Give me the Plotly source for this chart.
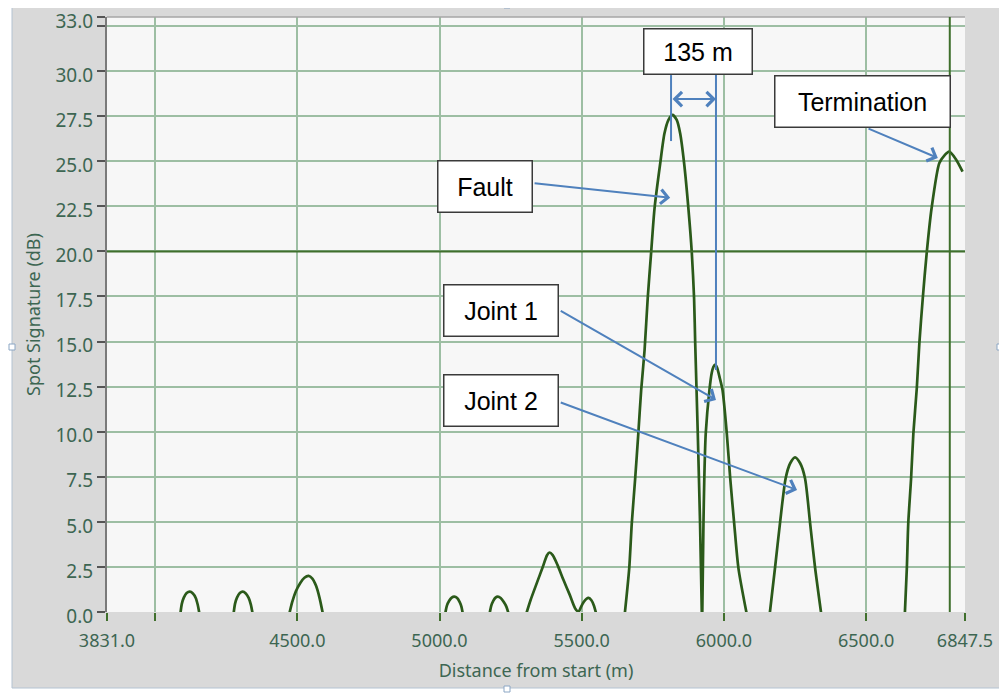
import plotly.graph_objects as go

# ---------------- data (distance in m, spot signature in dB) ----------------
lobe1_x = [4089, 4094, 4101, 4111, 4122, 4133, 4143, 4150, 4156]
lobe1_y = [-0.1, 0.45, 0.8, 1.05, 1.13, 1.03, 0.78, 0.4, -0.1]
lobe2_x = [4276, 4281, 4288, 4298, 4308, 4319, 4329, 4337, 4343]
lobe2_y = [-0.1, 0.45, 0.8, 1.05, 1.13, 1.03, 0.78, 0.4, -0.1]
lobe3_x = [4472, 4482, 4495, 4510, 4525, 4540, 4553, 4566, 4578, 4590]
lobe3_y = [-0.1, 0.55, 1.15, 1.6, 1.9, 2.0, 1.85, 1.45, 0.8, -0.1]
lobe4_x = [5020, 5026, 5034, 5043, 5052, 5062, 5071, 5077, 5082]
lobe4_y = [-0.1, 0.35, 0.62, 0.8, 0.85, 0.78, 0.55, 0.3, -0.1]
lobe5_x = [5176, 5182, 5189, 5197, 5205, 5215, 5226, 5235, 5243]
lobe5_y = [-0.1, 0.35, 0.62, 0.8, 0.85, 0.78, 0.55, 0.3, -0.1]
lobe6_x = [5305, 5320, 5342, 5362, 5378, 5387, 5398, 5415, 5436, 5458, 5477, 5489,
           5498, 5507, 5516, 5524, 5534, 5543, 5551]
lobe6_y = [-0.1, 0.65, 1.6, 2.45, 3.15, 3.3, 3.15, 2.6, 1.77, 0.95, 0.2, 0.02,
           0.3, 0.55, 0.72, 0.78, 0.65, 0.35, -0.1]
fault_x = [5650, 5667, 5676, 5688, 5699, 5709, 5721, 5732, 5744, 5756, 5776, 5791,
           5805, 5819, 5834, 5846, 5860, 5875, 5887, 5895, 5899, 5908, 5916, 5922,
           5923,
           5924, 5928, 5931, 5936, 5949, 5957, 5963, 5969, 5976, 5985, 5995, 6010,
           6022, 6036, 6051, 6080]
fault_y = [-0.3, 2.42, 4.92, 7.42, 9.91, 12.31, 14.53, 17.4, 19.93, 22.39, 24.89, 26.55,
           27.29, 27.57, 27.29, 26.55, 24.89, 22.39, 19.93, 17.4, 14.9, 9.91, 4.92, 0.11,
           -0.5,
           0.11, 4.92, 7.42, 9.91, 12.31, 13.26, 13.6, 13.72, 13.55, 13.0, 12.31, 9.91,
           7.42, 4.92, 2.42, -0.1]
joint2_x = [6161, 6180, 6197, 6217, 6233, 6250, 6268, 6285, 6303, 6320, 6342]
joint2_y = [-0.1, 2.51, 4.92, 7.42, 8.25, 8.58, 8.25, 7.42, 4.92, 2.51, -0.1]
term_x = [6636, 6643, 6648, 6658, 6666, 6678, 6687, 6699, 6713, 6730, 6757, 6774,
          6792, 6816, 6839]
term_y = [-0.1, 2.42, 4.92, 7.42, 9.91, 12.41, 14.9, 17.4, 19.93, 22.39, 24.89, 25.3,
          25.53, 25.1, 24.42]

x_tickvals = [3831.0, 4000.0, 4500.0, 5000.0, 5500.0, 6000.0, 6500.0, 6847.5]
x_ticktext = ["3831.0", "", "4500.0", "5000.0", "5500.0", "6000.0", "6500.0", "6847.5"]
y_tickvals = [0, 2.5, 5, 7.5, 10, 12.5, 15, 17.5, 20, 22.5, 25, 27.5, 30, 32.5, 33]
y_ticktext = ["0.0", "2.5", "5.0", "7.5", "10.0", "12.5", "15.0", "17.5", "20.0",
              "22.5", "25.0", "27.5", "30.0", "", "33.0"]

cursor_x = 6794
cursor_y = 20.0

# label boxes: text, x, y (data), box width, box height (px)
label_text = ["Fault", "Joint 1", "Joint 2", "Termination", "135 m"]
label_x = [5161, 5217, 5217, 6487, 5909]
label_y = [23.6, 16.72, 11.73, 28.31, 31.09]
label_w = [96, 116, 116, 177, 110]
label_h = [53, 53, 53, 53, 47]

# arrows: tail -> head
arrow_tail_x = [5329, 5421, 5421, 6503]
arrow_tail_y = [23.79, 16.75, 11.65, 26.84]
arrow_head_x = [5811, 5972, 6257, 6752]
arrow_head_y = [22.98, 11.76, 6.77, 25.18]

# 135 m dimension
dim_x = [5814, 5972]
dim_y = 28.45
dim_line_bottom = [26.12, 13.42]
dim_line_top = 29.78

# ---------------- figure ----------------
# the page body adds an 8 px offset; the figure is sized so the plot area
# lands on the same window pixels as the reference
OFF = 8
W, H = 1007 - OFF, 693 - OFF
ML, MR, MT, MB = 107 - OFF, 42, 17 - OFF, 81
PW, PH = W - ML - MR, H - MT - MB


def px2paper_x(px):  # px in window coordinates
    return (px - OFF - ML) / PW


def py2paper_y(py):
    return 1 - (py - OFF - MT) / PH


xs, ys = [], []
for lx, ly in [(lobe1_x, lobe1_y), (lobe2_x, lobe2_y), (lobe3_x, lobe3_y),
               (lobe4_x, lobe4_y), (lobe5_x, lobe5_y), (lobe6_x, lobe6_y),
               (fault_x, fault_y), (joint2_x, joint2_y), (term_x, term_y)]:
    xs += lx + [None]
    ys += ly + [None]

TRACE = "#2b5a1a"
GRID = "#9dbea3"
BLUE = "#4f81bd"
TICKC = "#3d6652"

fig = go.Figure()
fig.add_trace(go.Scatter(x=xs, y=ys, mode="lines",
                         line=dict(color=TRACE, width=2.7, shape="spline", smoothing=0.7),
                         connectgaps=False, showlegend=False, hoverinfo="skip"))

shapes = []
# outer white margins of the screenshot
for (x0, y0, x1, y1) in [(0, 0, 12, 700), (0, 0, 1010, 4), (1000, 0, 1010, 700),
                         (0, 688, 1010, 700)]:
    shapes.append(dict(type="rect", xref="paper", yref="paper",
                       x0=px2paper_x(x0), x1=px2paper_x(x1),
                       y0=py2paper_y(y0), y1=py2paper_y(y1),
                       fillcolor="white", line=dict(width=0), layer="below"))
shapes.append(dict(type="rect", xref="paper", yref="paper",
                   x0=px2paper_x(12), x1=px2paper_x(1000),
                   y0=py2paper_y(4), y1=py2paper_y(688),
                   fillcolor="rgba(0,0,0,0)", line=dict(color="#b4c3d2", width=1)))
for (hx, hy) in [(507, 5), (12, 347), (1000, 347), (507, 689)]:
    shapes.append(dict(type="rect", xref="paper", yref="paper",
                       x0=px2paper_x(hx - 3), x1=px2paper_x(hx + 3),
                       y0=py2paper_y(hy - 3), y1=py2paper_y(hy + 3),
                       fillcolor="white", line=dict(color="#8ba6c4", width=1)))
# top border of plot
shapes.append(dict(type="line", xref="paper", yref="paper", x0=0, x1=1, y0=1, y1=1,
                   line=dict(color="#a6a6a6", width=1.5)))
# cursors
shapes.append(dict(type="line", xref="x", yref="paper", x0=cursor_x, x1=cursor_x, y0=0, y1=1,
                   line=dict(color="#3f6f2c", width=2)))
shapes.append(dict(type="line", xref="paper", yref="y", x0=0, x1=1, y0=cursor_y, y1=cursor_y,
                   line=dict(color="#3f6f2c", width=2)))
# dimension lines
for dx, db in zip(dim_x, dim_line_bottom):
    shapes.append(dict(type="line", xref="x", yref="y", x0=dx, x1=dx, y0=db, y1=dim_line_top,
                       line=dict(color=BLUE, width=2)))

annotations = []
for t, x, y, w, h in zip(label_text, label_x, label_y, label_w, label_h):
    annotations.append(dict(x=x, y=y, xref="x", yref="y", text=t, showarrow=False,
                            font=dict(family="Liberation Sans, Arial", size=25, color="black"),
                            bgcolor="white", bordercolor="#3a3a3a", borderwidth=1.5,
                            borderpad=0, width=w - 3, height=h - 3,
                            xanchor="center", yanchor="middle", align="center",
                            valign="middle"))
for tx, ty, hx, hy in zip(arrow_tail_x, arrow_tail_y, arrow_head_x, arrow_head_y):
    annotations.append(dict(x=hx, y=hy, ax=tx, ay=ty, xref="x", yref="y",
                            axref="x", ayref="y", text="", showarrow=True,
                            arrowhead=4, arrowsize=1.4, arrowwidth=2,
                            arrowcolor=BLUE, standoff=0, startstandoff=0))
annotations.append(dict(x=dim_x[1], y=dim_y, ax=dim_x[0], ay=dim_y, xref="x", yref="y",
                        axref="x", ayref="y", text="", showarrow=True,
                        arrowhead=4, startarrowhead=4, arrowside="end+start",
                        arrowsize=1.4, startarrowsize=1.4, arrowwidth=2,
                        arrowcolor=BLUE, standoff=0, startstandoff=0))

fig.update_layout(
    width=W, height=H,
    margin=dict(l=ML, r=MR, t=MT, b=MB, autoexpand=False),
    paper_bgcolor="#d9d9d9",
    plot_bgcolor="#f7f7f7",
    shapes=shapes,
    annotations=annotations,
    font=dict(family="Noto Sans", size=19, color=TICKC),
)
fig.update_xaxes(range=[3831.0, 6847.5], tickvals=x_tickvals, ticktext=x_ticktext,
                 showgrid=True, gridcolor=GRID, gridwidth=2, zeroline=False,
                 ticks="outside", ticklen=8, tickwidth=2, tickcolor="#3f6f2c",
                 tickfont=dict(family="Noto Sans", size=18, color=TICKC),
                 ticklabeloverflow="allow", ticklabelstandoff=4,
                 title=dict(text="Distance from start (m)", standoff=13,
                            font=dict(family="Noto Sans", size=18, color=TICKC)),
                 showline=False, fixedrange=True)
fig.update_yaxes(range=[0, 33], tickvals=y_tickvals, ticktext=y_ticktext,
                 showgrid=True, gridcolor=GRID, gridwidth=2, zeroline=False,
                 ticks="outside", ticklen=8, tickwidth=2, tickcolor="#555555",
                 tickfont=dict(family="Noto Sans", size=19, color=TICKC),
                 ticklabeloverflow="allow", ticklabelshift=4,
                 title=dict(text="Spot Signature (dB)", standoff=10,
                            font=dict(family="Noto Sans", size=18, color=TICKC)),
                 showline=True, linecolor="#7a7a7a", linewidth=2, fixedrange=True)

fig.write_html("out.html")
